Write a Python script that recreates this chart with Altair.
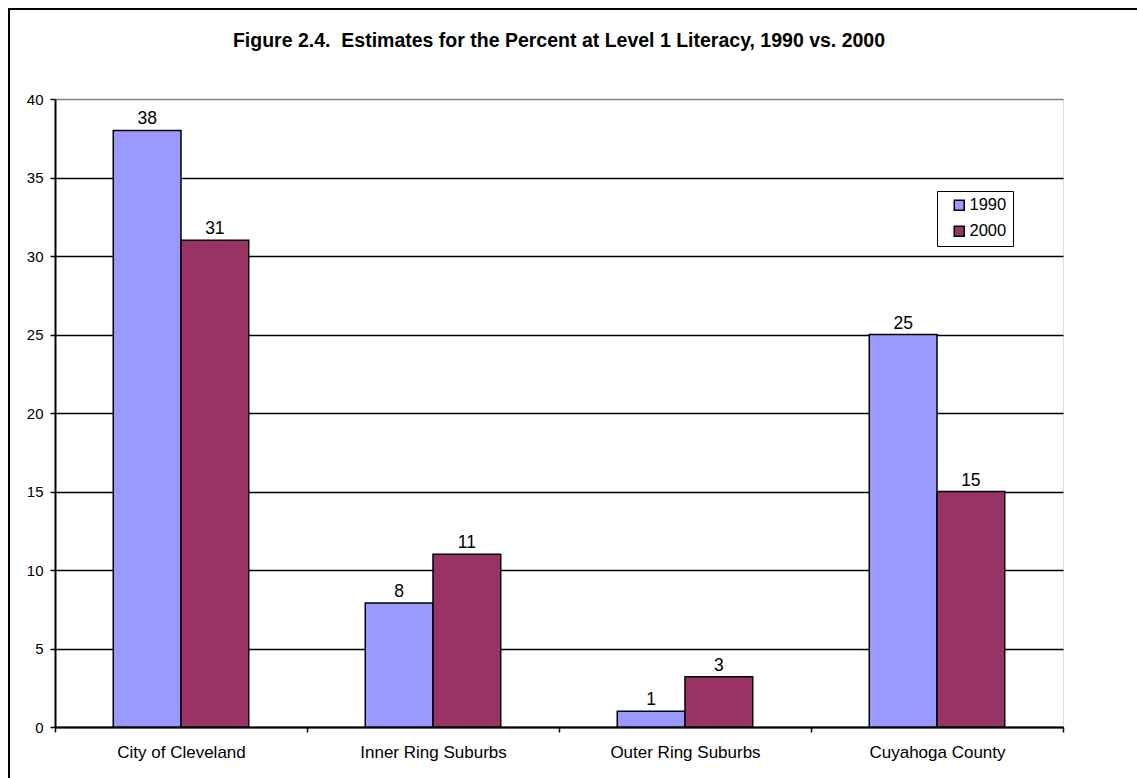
import altair as alt
import pandas as pd

categories = ["City of Cleveland", "Inner Ring Suburbs", "Outer Ring Suburbs", "Cuyahoga County"]
years = ["1990", "2000"]
values_1990 = [38, 7.9, 1.0, 25]
values_2000 = [31, 11, 3.2, 15]
colors = ["#9999FF", "#993366"]
y_ticks = [0, 5, 10, 15, 20, 25, 30, 35, 40]
title_text = "Figure 2.4.\u00a0 Estimates for the Percent at Level 1 Literacy, 1990 vs. 2000"

rows = []
for c, a, b in zip(categories, values_1990, values_2000):
    rows.append({"area": c, "year": years[0], "pct": a})
    rows.append({"area": c, "year": years[1], "pct": b})
df = pd.DataFrame(rows)

FONT = "Liberation Sans"

x_enc = alt.X(
    "area:N", sort=categories,
    scale=alt.Scale(paddingInner=0, paddingOuter=0),
    axis=alt.Axis(title=None, labelAngle=0, tickBand="extent", grid=False,
                  domainColor="black", domainWidth=2, tickColor="black",
                  tickWidth=1.5, tickSize=5, labelPadding=12,
                  labelFontSize=17, labelColor="black", labelFont=FONT),
)
xo_enc = alt.XOffset("year:N", sort=years,
                     scale=alt.Scale(paddingInner=0, paddingOuter=0.86))
y_enc = alt.Y(
    "pct:Q",
    scale=alt.Scale(domain=[0, 40], nice=False),
    axis=alt.Axis(title=None, values=y_ticks, grid=True,
                  gridColor={"condition": {"test": "datum.value === 40", "value": "#808080"}, "value": "black"},
                  gridWidth=1.5, domainColor="black", domainWidth=2,
                  tickColor="black", tickSize=5, tickWidth=1.5, labelPadding=7,
                  labelFontSize=15, labelColor="black", labelFont=FONT),
)

base = alt.Chart(df)

bars = base.mark_bar(stroke="black", strokeWidth=1.5).encode(
    x=x_enc, xOffset=xo_enc, y=y_enc,
    color=alt.Color(
        "year:N", sort=years,
        scale=alt.Scale(domain=years, range=colors),
        legend=alt.Legend(
            title=None, orient="none", legendX=882, legendY=92,
            symbolType="square", symbolSize=100, symbolStrokeColor="black",
            symbolStrokeWidth=1.5, strokeColor="black", fillColor="white",
            padding=6, symbolOffset=8, labelOffset=2, rowPadding=9,
            labelFontSize=16.5, labelFont=FONT, labelColor="black",
            labelExpr="datum.label + '\u00a0\u00a0\u00a0\u00a0'",
        ),
    ),
)

labels = base.mark_text(baseline="alphabetic", dy=-6, fontSize=17.5,
                        font=FONT, color="black").encode(
    x=x_enc, xOffset=xo_enc, y=y_enc,
    text=alt.Text("pct:Q", format=".0f"),
)

frame = alt.Chart(alt.Data(values=[{"k": 1}])).mark_rect(
    fill="transparent", stroke="black", strokeWidth=2
).encode(x=alt.value(-46), x2=alt.value(1120), y=alt.value(-90), y2=alt.value(720))

chart = alt.layer(frame, bars, labels).properties(
    width=1008, height=628,
    padding={"left": 55, "top": 99, "right": 74, "bottom": 51},
    autosize="none",
    title=alt.TitleParams(title_text, fontSize=19.5, fontWeight="bold", font=FONT,
                          color="black", anchor="middle", offset=-43),
).configure_view(stroke="#808080", strokeWidth=1.5).configure(background="white")

chart.save("out.html", embed_options={"renderer": "svg", "actions": False})
